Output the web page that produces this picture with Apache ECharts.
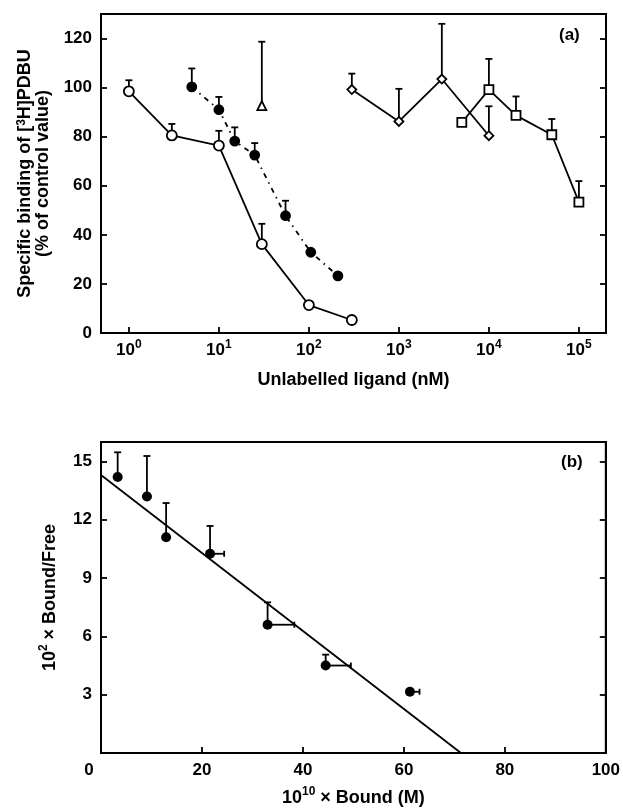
<!DOCTYPE html>
<html>
<head>
<meta charset="utf-8">
<script src="https://cdn.jsdelivr.net/npm/echarts@6/dist/echarts.min.js"></script>
<style>
  html, body { margin: 0; padding: 0; background: #fff; }
  #chart { width: 623px; height: 808px; }
</style>
</head>
<body>
<div id="chart"></div>
<script>
// Panel (a): competition of [3H]PDBU binding by unlabelled ligands
const openX = [1, 3, 10, 30, 100, 300];
const openY = [98.5, 80.5, 76.4, 36.2, 11.4, 5.3];
const openSem = [4.5, 4.7, 6.0, 8.3, 0, 0];

const filledX = [5, 10, 15, 25, 55, 105, 210];
const filledY = [100.3, 91, 78.2, 72.5, 47.8, 32.9, 23.3];
const filledSem = [7.5, 5.2, 5.6, 4.9, 6.1, 0, 0];

const triX = [30];
const triY = [92.7];
const triSem = [26];

const diamondX = [300, 1000, 3000, 10000];
const diamondY = [99.2, 86.2, 103.5, 80.4];
const diamondSem = [6.5, 13.3, 22.5, 12];

const squareX = [5000, 10000, 20000, 50000, 100000];
const squareY = [85.8, 99.2, 88.7, 80.8, 53.3];
const squareSem = [0, 12.5, 7.7, 6.4, 8.6];

const bindingTicks = [0, 20, 40, 60, 80, 100, 120];

// Panel (b): Scatchard plot
const boundX = [3.3, 9.1, 12.9, 21.6, 33, 44.5, 61.2];
const ratioY = [14.2, 13.2, 11.1, 10.25, 6.6, 4.5, 3.15];
const ratioSem = [1.27, 2.08, 1.76, 1.43, 1.15, 0.56, 0];
const boundSem = [0, 0, 0, 2.8, 5.3, 5.0, 1.9];
const fitX = [0, 71.3];
const fitY = [14.3, 0];

const ratioTicks = [3, 6, 9, 12, 15];
const boundTicks = [0, 20, 40, 60, 80, 100];

const FONT = "'Liberation Sans', Arial, sans-serif";
const INK = '#000';

const zip = (xs, ys) => xs.map((x, i) => [x, ys[i]]);
const zip3 = (xs, ys, es) => xs.map((x, i) => [x, ys[i], es[i]]);

function vErr(params, api) {
  const x = api.value(0), y = api.value(1), e = api.value(2);
  if (!e) return null;
  const a = api.coord([x, y]);
  const b = api.coord([x, y + e]);
  const cap = 3.5;
  return {
    type: 'group',
    children: [
      { type: 'line', shape: { x1: a[0], y1: a[1], x2: b[0], y2: b[1] }, style: { stroke: INK, lineWidth: 1.8 } },
      { type: 'line', shape: { x1: b[0] - cap, y1: b[1], x2: b[0] + cap, y2: b[1] }, style: { stroke: INK, lineWidth: 1.8 } }
    ]
  };
}

function hErr(params, api) {
  const x = api.value(0), y = api.value(1), e = api.value(2);
  if (!e) return null;
  const a = api.coord([x, y]);
  const b = api.coord([x + e, y]);
  const cap = 3;
  return {
    type: 'group',
    children: [
      { type: 'line', shape: { x1: a[0], y1: a[1], x2: b[0], y2: b[1] }, style: { stroke: INK, lineWidth: 1.8 } },
      { type: 'line', shape: { x1: b[0], y1: b[1] - cap, x2: b[0], y2: b[1] + cap }, style: { stroke: INK, lineWidth: 1.8 } }
    ]
  };
}

const labelBase = { color: INK, fontFamily: FONT, fontWeight: 'bold', fontSize: 17 };
const titleBase = { color: INK, fontFamily: FONT, fontWeight: 'bold', fontSize: 18 };
const supStyle = { fontSize: 12, fontWeight: 'bold', fontFamily: FONT, color: INK, verticalAlign: 'top', lineHeight: 15 };
const baseRich = Object.assign({}, labelBase, { verticalAlign: 'bottom', lineHeight: 20 });
const titleRich = Object.assign({}, titleBase, { verticalAlign: 'bottom', lineHeight: 21 });

function powLabel(v) {
  const e = Math.log10(v);
  const r = Math.round(e);
  if (Math.abs(e - r) > 1e-6) return '';
  return '{b|10}{sup|' + r + '}';
}

const tickIn = { show: true, inside: true, length: 6, lineStyle: { color: INK, width: 1.8 } };
const axisLineStyle = { show: true, lineStyle: { color: INK, width: 2 } };

function lineSeries(xs, ys, symbol, size, filled, dashed, xi, yi) {
  return {
    type: 'line',
    xAxisIndex: xi, yAxisIndex: yi,
    data: zip(xs, ys),
    symbol: symbol,
    symbolSize: size,
    showSymbol: true,
    z: 5,
    lineStyle: { color: INK, width: 1.8, type: dashed ? [5, 5, 1.5, 5] : 'solid' },
    itemStyle: { color: filled ? INK : '#fff', borderColor: INK, borderWidth: 1.8, opacity: 1 },
    emphasis: { disabled: true },
    animation: false
  };
}

function errSeries(xs, ys, es, render, xi, yi) {
  return {
    type: 'custom',
    xAxisIndex: xi, yAxisIndex: yi,
    data: zip3(xs, ys, es),
    renderItem: render,
    z: 2,
    silent: true,
    animation: false
  };
}

const chart = echarts.init(document.getElementById('chart'), null, { renderer: 'canvas' });

chart.setOption({
  backgroundColor: '#fff',
  animation: false,
  textStyle: { fontFamily: FONT },
  grid: [
    { left: 101, top: 14, right: 17, bottom: 475, show: true, borderColor: INK, borderWidth: 2, backgroundColor: 'transparent' },
    { left: 101, top: 442, right: 16, bottom: 52, show: true, borderColor: INK, borderWidth: 2, backgroundColor: 'transparent' }
  ],
  xAxis: [
    {
      type: 'log', gridIndex: 0, min: 0.49, max: 200000, logBase: 10,
      axisLine: axisLineStyle, axisTick: tickIn, splitLine: { show: false }, minorTick: { show: false },
      axisLabel: Object.assign({}, labelBase, {
        margin: 6, formatter: powLabel, showMinLabel: true, showMaxLabel: true,
        rich: { b: baseRich, sup: supStyle }
      }),
      name: '{t|Unlabelled ligand (nM)}', nameLocation: 'middle', nameGap: 35,
      nameTextStyle: Object.assign({}, titleBase, { rich: { t: titleRich } })
    },
    {
      type: 'value', gridIndex: 1, min: 0, max: 100, interval: 20,
      axisLine: axisLineStyle, axisTick: tickIn, splitLine: { show: false },
      axisLabel: Object.assign({}, labelBase, {
        margin: 9,
        formatter: v => (v === 0 ? '{z|0}' : String(v)),
        rich: { z: Object.assign({}, labelBase, { padding: [0, 24, 0, 0] }) }
      }),
      name: '{t|10}{sup|10}{t| × Bound (M)}', nameLocation: 'middle', nameGap: 33,
      nameTextStyle: Object.assign({}, titleBase, { rich: { t: titleRich, sup: supStyle } })
    }
  ],
  yAxis: [
    {
      type: 'value', gridIndex: 0, min: 0, max: 130, interval: 20, position: 'left',
      axisLine: axisLineStyle, axisTick: tickIn, splitLine: { show: false },
      axisLabel: Object.assign({}, labelBase, {
        margin: 9,
        formatter: v => (bindingTicks.indexOf(v) >= 0 ? String(v) : '')
      }),
      name: '{t|Specific binding of [}{sup|3}{t|H]PDBU}\n{t|(% of control value)}',
      nameLocation: 'middle', nameGap: 49,
      nameTextStyle: Object.assign({}, titleBase, { rich: { t: Object.assign({}, titleRich, { lineHeight: 18 }), sup: supStyle } })
    },
    {
      type: 'value', gridIndex: 0, min: 0, max: 130, interval: 20, position: 'right',
      axisLine: axisLineStyle, axisTick: tickIn, axisLabel: { show: false }, splitLine: { show: false }
    },
    {
      type: 'value', gridIndex: 1, min: 0, max: 16, interval: 3, position: 'left',
      axisLine: axisLineStyle, axisTick: tickIn, splitLine: { show: false },
      axisLabel: Object.assign({}, labelBase, {
        margin: 9,
        formatter: v => (ratioTicks.indexOf(v) >= 0 ? String(v) : '')
      }),
      name: '{t|10}{sup|2}{t| × Bound/Free}', nameLocation: 'middle', nameGap: 42,
      nameTextStyle: Object.assign({}, titleBase, { rich: { t: titleRich, sup: supStyle } })
    },
    {
      type: 'value', gridIndex: 1, min: 0, max: 16, interval: 3, position: 'right',
      axisLine: axisLineStyle, axisTick: tickIn, axisLabel: { show: false }, splitLine: { show: false }
    }
  ],
  graphic: [
    { type: 'text', left: 559, top: 27, style: { text: '(a)', font: "bold 17px 'Liberation Sans', Arial, sans-serif", fill: INK } },
    { type: 'text', left: 561, top: 454, style: { text: '(b)', font: "bold 17px 'Liberation Sans', Arial, sans-serif", fill: INK } }
  ],
  series: [
    // panel (a) error bars
    errSeries(openX, openY, openSem, vErr, 0, 0),
    errSeries(filledX, filledY, filledSem, vErr, 0, 0),
    errSeries(triX, triY, triSem, vErr, 0, 0),
    errSeries(diamondX, diamondY, diamondSem, vErr, 0, 0),
    errSeries(squareX, squareY, squareSem, vErr, 0, 0),
    // panel (a) curves
    lineSeries(openX, openY, 'circle', 10, false, false, 0, 0),
    lineSeries(filledX, filledY, 'circle', 9, true, true, 0, 0),
    {
      type: 'scatter', xAxisIndex: 0, yAxisIndex: 0, data: zip(triX, triY),
      symbol: 'triangle', symbolSize: 9, z: 5,
      itemStyle: { color: '#fff', borderColor: INK, borderWidth: 1.8, opacity: 1 }
    },
    lineSeries(diamondX, diamondY, 'diamond', [9, 9], false, false, 0, 0),
    lineSeries(squareX, squareY, 'rect', 9, false, false, 0, 0),
    // panel (b)
    errSeries(boundX, ratioY, ratioSem, vErr, 1, 2),
    errSeries(boundX, ratioY, boundSem, hErr, 1, 2),
    {
      type: 'line', xAxisIndex: 1, yAxisIndex: 2, data: zip(fitX, fitY),
      symbol: 'none', z: 3, lineStyle: { color: INK, width: 1.8 }
    },
    {
      type: 'scatter', xAxisIndex: 1, yAxisIndex: 2, data: zip(boundX, ratioY),
      symbol: 'circle', symbolSize: 10, z: 5,
      itemStyle: { color: INK, opacity: 1 }
    }
  ]
});
</script>
</body>
</html>
